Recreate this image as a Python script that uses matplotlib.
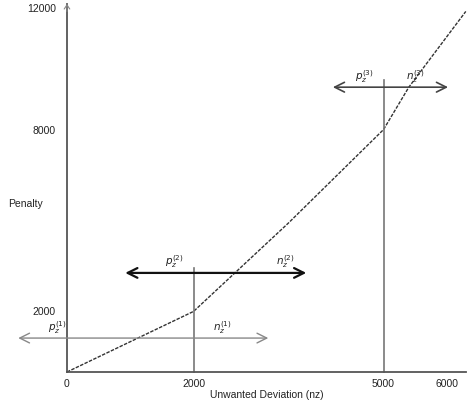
"""Piecewise penalty on unwanted deviation, with the breakpoint ranges."""

import matplotlib
matplotlib.use("Agg")
import matplotlib.pyplot as plt

plt.rcParams['font.family'] = ['Liberation Sans', 'DejaVu Sans']

# penalty curve
dev = [0, 2000, 3500, 5000, 5400, 6300]
penalty = [0, 2000, 4920, 8000, 9400, 11900]

# breakpoints and the range arrows around them
breaks = [2000, 5000]
break_tops = [3430, 9640]
arrow_y = [1120, 3270, 9400]
arrow_x0 = [-770, 920, 4200]
arrow_x1 = [3180, 3780, 6020]
arrow_colors = ['#888888', '#111111', '#444444']
arrow_widths = [1.0, 1.6, 1.2]
p_labels = [r'$p_z^{(1)}$', r'$p_z^{(2)}$', r'$p_z^{(3)}$']
n_labels = [r'$n_z^{(1)}$', r'$n_z^{(2)}$', r'$n_z^{(3)}$']
p_label_x = [-300, 1550, 4550]
n_label_x = [2300, 3300, 5350]

xticks = [0, 2000, 5000, 6000]
yticks = [2000, 8000, 12000]

fig = plt.figure(figsize=(4.72, 4.11), dpi=100)
ax = fig.add_axes([0, 0, 1, 1])
ax.set_xlim(-1058, 6398)
ax.set_ylim(-1287, 12277)

# axes drawn through the origin
for side in ['top', 'right']:
    ax.spines[side].set_visible(False)
ax.spines['left'].set_position(('data', 0))
ax.spines['bottom'].set_position(('data', 0))
ax.spines['left'].set_bounds(0, 12150)
ax.spines['bottom'].set_bounds(0, 6300)
ax.spines['left'].set_color('#555555')
ax.spines['bottom'].set_color('#555555')
ax.spines['left'].set_linewidth(1.3)
ax.spines['bottom'].set_linewidth(1.3)

ax.set_xticks(xticks)
ax.set_xticklabels([str(v) for v in xticks])
ax.set_yticks(yticks)
ax.set_yticklabels([str(v) for v in yticks])
ax.tick_params(length=0, labelsize=7.5, colors='#222222', pad=5)
ax.tick_params(axis='y', pad=8)

# penalty curve
ax.plot(dev, penalty, color='#333333', lw=1.0, linestyle=(0, (2.5, 1)))

# vertical lines at the breakpoints
for bx, top in zip(breaks, break_tops):
    ax.plot([bx, bx], [0, top], color='#777777', lw=1.2)

# range arrows
for y, x0, x1, c, w in zip(arrow_y, arrow_x0, arrow_x1, arrow_colors, arrow_widths):
    ax.annotate('', xy=(x0, y), xytext=(x1, y),
                arrowprops=dict(arrowstyle='<->,head_length=0.7,head_width=0.35',
                                color=c, lw=w, shrinkA=0, shrinkB=0))

for y, px, nx, pl, nl in zip(arrow_y, p_label_x, n_label_x, p_labels, n_labels):
    ax.text(px, y + 80, pl, fontsize=7.5, color='#222222', ha='left', va='bottom')
    ax.text(nx, y + 80, nl, fontsize=7.5, color='#222222', ha='left', va='bottom')

# small arrowhead on top of the y axis
ax.annotate('', xy=(0, 12150), xytext=(0, 11900),
            arrowprops=dict(arrowstyle='->,head_length=0.3,head_width=0.2',
                            color='#888888', lw=0.8, shrinkA=0, shrinkB=0))

ax.text(-660, 5550, 'Penalty', fontsize=7.5, color='#222222', ha='center', va='center')
ax.text(3150, -770, 'Unwanted Deviation (nz)', fontsize=7.5, color='#222222',
        ha='center', va='center')

fig.savefig('out.png', dpi=100)
